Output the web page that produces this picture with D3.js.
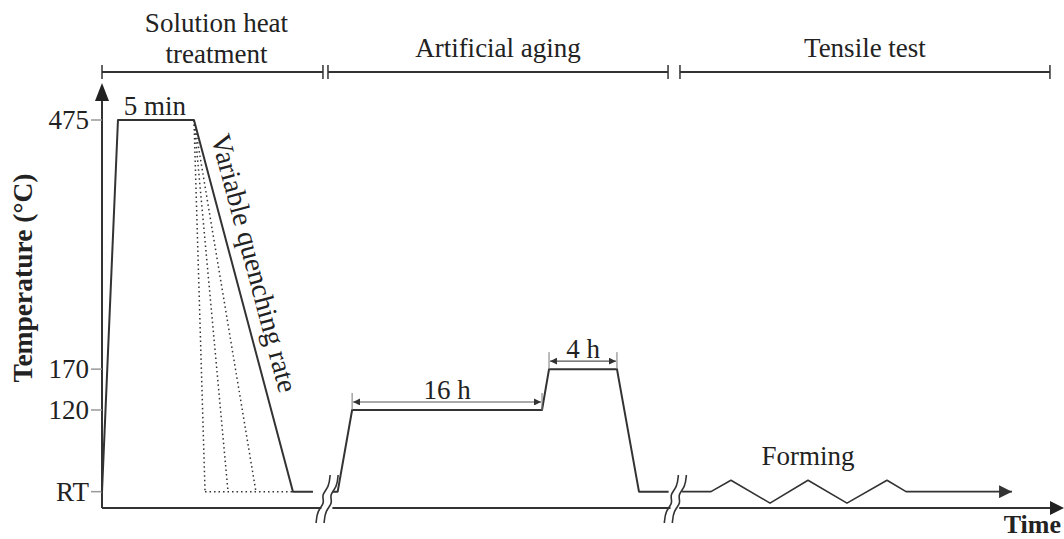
<!DOCTYPE html>
<html>
<head>
<meta charset="utf-8">
<script src="https://cdn.jsdelivr.net/npm/d3@7"></script>
<style>
  body { margin: 0; background: #fff; }
  svg { display: block; }
  text { font-family: "Liberation Serif", "Times New Roman", serif; fill: #222; }
</style>
</head>
<body>
<div id="chart"></div>
<script>
// schematic heat treatment route, time in arbitrary units (0-100), temperature in degC (RT = 20)
var yTicks = [475, 170, 120, 20];
var yTickLabels = ["475", "170", "120", "RT"];

var solutionTime = [0, 1.66, 9.56, 19.85, 21.93];
var solutionTemp = [20, 475, 475, 20, 20];
var quenchEnds = [10.71, 13.1, 16.0];   // dotted faster quench paths

var agingTime = [24.0, 24.5, 26.0, 45.74, 46.47, 53.53, 55.82, 58.9];
var agingTemp = [20, 20, 120, 120, 170, 170, 20, 20];

var formingTime = [60.3, 63.3, 65.38, 69.44, 73.39, 77.44, 81.6, 83.58, 94.6];
var formingTemp = [20, 20, 34, 6, 34, 6, 34, 20, 20];

var stageNames = [["Solution heat", "treatment"], ["Artificial aging"], ["Tensile test"]];
var stageStart = [0, 23.49, 60.08];
var stageEnd = [22.97, 58.84, 98.54];

var breaks = [23.4, 59.6];
var axisGaps = [[22.8, 23.95], [59.1, 60.0]];

var holdLabels = ["16 h", "4 h"];
var holdStart = [26.0, 46.47];
var holdEnd = [45.74, 53.53];
var holdTemp = [120, 170];

var width = 1064, height = 539;
var ink = "#333";
var fs = "27px";

var x = d3.scaleLinear().domain([0, 100]).range([102, 1064]);
var y = d3.scaleLinear().domain([0, 475]).range([508, 120]);

var svg = d3.select("#chart").append("svg")
    .attr("width", width)
    .attr("height", height);

var defs = svg.append("defs");
function marker(id, size) {
    defs.append("marker").attr("id", id)
        .attr("viewBox", "0 0 10 10").attr("refX", 10).attr("refY", 5)
        .attr("markerWidth", size).attr("markerHeight", size).attr("markerUnits", "userSpaceOnUse")
        .attr("orient", "auto-start-reverse")
        .append("path").attr("d", "M0,0L10,5L0,10z").attr("fill", ink);
}
marker("arr", 7);
marker("arrBig", 13);

var line = d3.line()
    .x(function(d) { return x(d[0]); })
    .y(function(d) { return y(d[1]); });

function zip(a, b) { return a.map(function(v, i) { return [v, b[i]]; }); }

// y axis with arrow
var gy = svg.append("g");
gy.append("line").attr("x1", x(0)).attr("x2", x(0)).attr("y1", y(0)).attr("y2", 99)
    .attr("stroke", ink).attr("stroke-width", 2);
gy.append("path").attr("d", "M" + (x(0) - 7) + ",101L" + x(0) + ",83L" + (x(0) + 7) + ",101z").attr("fill", "#222");

gy.selectAll("line.tick").data(yTicks).enter().append("line")
    .attr("x1", x(0) - 11).attr("x2", x(0))
    .attr("y1", function(d) { return y(d); }).attr("y2", function(d) { return y(d); })
    .attr("stroke", "#999").attr("stroke-width", 1.5);
gy.selectAll("text").data(yTicks).enter().append("text")
    .attr("x", x(0) - 13)
    .attr("y", function(d) { return y(d) + 9; })
    .attr("text-anchor", "end")
    .style("font-size", fs)
    .text(function(d, i) { return yTickLabels[i]; });

svg.append("text")
    .attr("transform", "translate(32,278) rotate(-90)")
    .attr("text-anchor", "middle")
    .style("font-size", "27.5px").style("font-weight", "bold")
    .text("Temperature (°C)");

// x axis, cut at the breaks
var axisSegs = [[0, axisGaps[0][0]], [axisGaps[0][1], axisGaps[1][0]], [axisGaps[1][1], 100]];
svg.selectAll("line.xaxis").data(axisSegs).enter().append("line")
    .attr("x1", function(d) { return x(d[0]); }).attr("x2", function(d, i) { return i == 2 ? x(d[1]) - 12 : x(d[1]); })
    .attr("y1", y(0)).attr("y2", y(0))
    .attr("stroke", ink).attr("stroke-width", 2);
svg.append("path").attr("d", "M" + (x(100) - 14) + "," + (y(0) - 7) + "L" + x(100) + "," + y(0) + "L" + (x(100) - 14) + "," + (y(0) + 7) + "z").attr("fill", "#222");

svg.append("text").attr("x", x(100) - 3).attr("y", 533)
    .attr("text-anchor", "end")
    .style("font-size", "26px").style("font-weight", "bold")
    .text("Time");

// break marks
var wave = d3.line().curve(d3.curveBasis);
breaks.forEach(function(b) {
    [-4, 4].forEach(function(dx) {
        var cx = x(b) + dx, cy = 499;
        var pts = [[cx - 7, cy + 24], [cx - 6, cy + 12], [cx + 2, cy + 4], [cx - 2, cy - 4], [cx + 6, cy - 12], [cx + 7, cy - 24]];
        svg.append("path").attr("d", wave(pts)).attr("fill", "none")
            .attr("stroke", ink).attr("stroke-width", 1.6);
    });
});

// profiles
var gp = svg.append("g").attr("fill", "none").attr("stroke", ink).attr("stroke-width", 2).attr("stroke-linejoin", "round");
gp.append("path").attr("d", line(zip(solutionTime, solutionTemp)));
gp.append("path").attr("d", line(zip(agingTime, agingTemp)));
gp.append("path").attr("d", line(zip(formingTime, formingTemp))).attr("marker-end", "url(#arrBig)").attr("stroke-width", 1.6);

// dotted quench alternatives
quenchEnds.forEach(function(t) {
    gp.append("path").attr("d", line([[solutionTime[2], 475], [t, 20]]))
        .attr("stroke-width", 1.5).attr("stroke-dasharray", "1.5,3");
});
gp.append("path").attr("d", line([[quenchEnds[0], 20], [solutionTime[3], 20]]))
    .attr("stroke-width", 1.5).attr("stroke-dasharray", "1.5,3");

svg.append("text").attr("x", (x(solutionTime[1]) + x(solutionTime[2])) / 2 - 1).attr("y", 115)
    .attr("text-anchor", "middle").style("font-size", fs).text("5 min");

// quench label along the slope
var p0 = [x(solutionTime[2]), y(475)], p1 = [x(solutionTime[3]), y(20)];
var ang = Math.atan2(p1[1] - p0[1], p1[0] - p0[0]) * 180 / Math.PI;
var tq = 0.40;
svg.append("text")
    .attr("transform", "translate(" + (p0[0] + tq * (p1[0] - p0[0])) + "," + (p0[1] + tq * (p1[1] - p0[1])) + ") rotate(" + ang + ")")
    .attr("y", -12)
    .attr("text-anchor", "middle").style("font-size", "28px")
    .text("Variable quenching rate");

// hold durations
holdLabels.forEach(function(lab, i) {
    var yy = y(holdTemp[i]) - 8, x0 = x(holdStart[i]), x1 = x(holdEnd[i]);
    var g = svg.append("g");
    g.append("line").attr("x1", x0).attr("x2", x0).attr("y1", y(holdTemp[i]) - 17).attr("y2", y(holdTemp[i]))
        .attr("stroke", "#777").attr("stroke-width", 1);
    g.append("line").attr("x1", x1).attr("x2", x1).attr("y1", y(holdTemp[i]) - 17).attr("y2", y(holdTemp[i]))
        .attr("stroke", "#777").attr("stroke-width", 1);
    g.append("line").attr("x1", x0 + 1).attr("x2", x1 - 1).attr("y1", yy).attr("y2", yy)
        .attr("stroke", "#555").attr("stroke-width", 1.2)
        .attr("marker-start", "url(#arr)").attr("marker-end", "url(#arr)");
    g.append("text").attr("x", (x0 + x1) / 2).attr("y", yy - 3)
        .attr("text-anchor", "middle").style("font-size", fs).text(lab);
});

svg.append("text").attr("x", x(73.4)).attr("y", 465)
    .attr("text-anchor", "middle").style("font-size", fs).text("Forming");

// stage brackets
var gs = svg.append("g");
stageNames.forEach(function(names, i) {
    var x0 = x(stageStart[i]), x1 = x(stageEnd[i]), yb = 72;
    gs.append("line").attr("x1", x0).attr("x2", x1).attr("y1", yb).attr("y2", yb).attr("stroke", ink).attr("stroke-width", 2);
    [x0, x1].forEach(function(xx) {
        gs.append("line").attr("x1", xx).attr("x2", xx).attr("y1", yb - 7).attr("y2", yb + 7).attr("stroke", ink).attr("stroke-width", 1.5);
    });
    var baseY = names.length == 2 ? [32, 63] : [57];
    names.forEach(function(n, j) {
        gs.append("text").attr("x", (x0 + x1) / 2 + (i == 0 ? 4 : 0)).attr("y", baseY[j])
            .attr("text-anchor", "middle").style("font-size", fs).text(n);
    });
});
</script>
</body>
</html>
